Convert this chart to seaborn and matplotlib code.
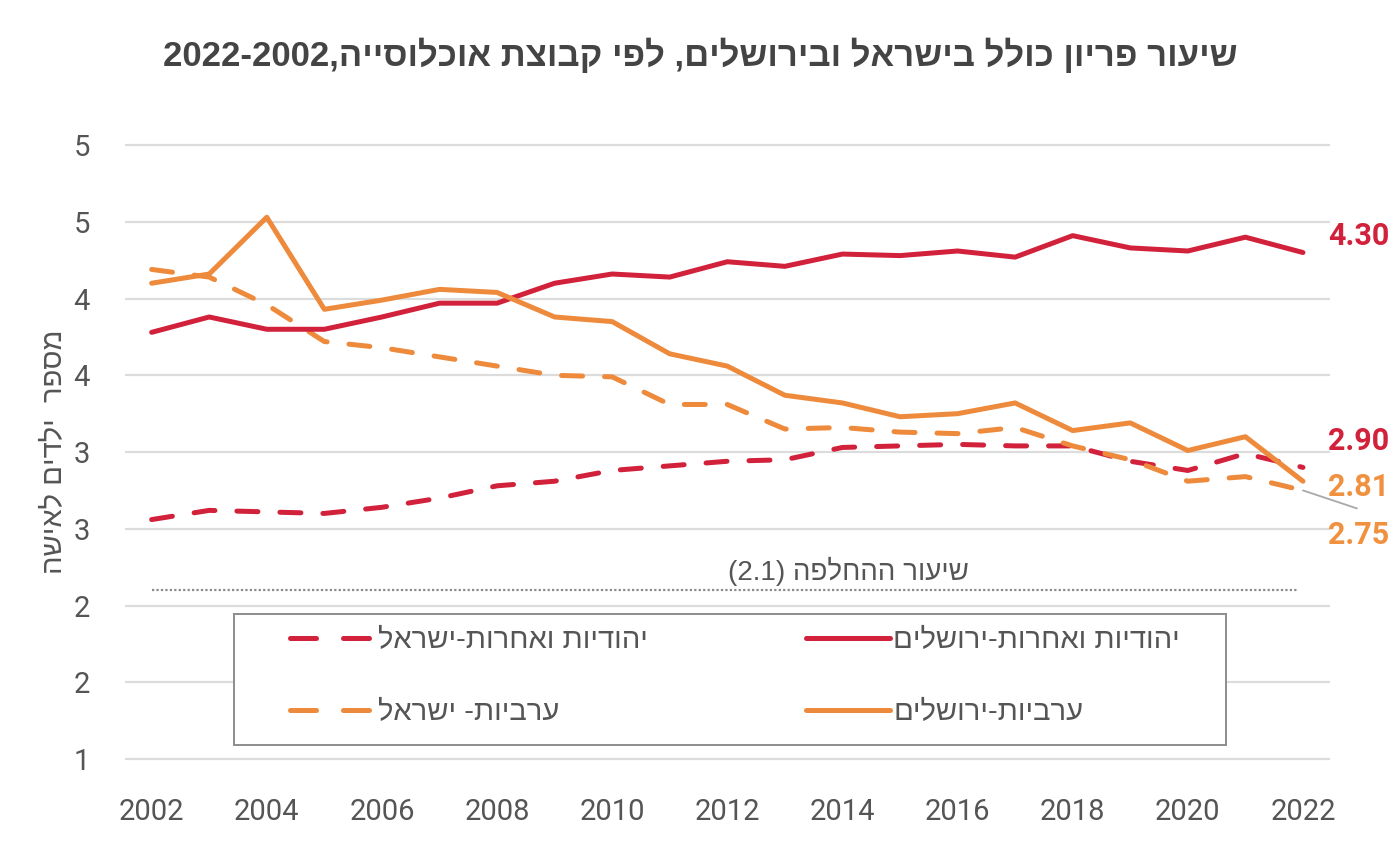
import re
import numpy as np
import pandas as pd
import matplotlib
matplotlib.use("Agg")
import matplotlib.pyplot as plt
from matplotlib.lines import Line2D
from matplotlib.patches import Rectangle
from matplotlib.ticker import FuncFormatter
import seaborn as sns

# ---------------- data ----------------
years = list(range(2002, 2023))
jewish_jerusalem = [3.78, 3.88, 3.80, 3.80, 3.88, 3.97, 3.97, 4.10, 4.16, 4.14, 4.24,
                    4.21, 4.29, 4.28, 4.31, 4.27, 4.41, 4.33, 4.31, 4.40, 4.30]
arab_jerusalem = [4.10, 4.16, 4.53, 3.93, 3.99, 4.06, 4.04, 3.88, 3.85, 3.64, 3.56,
                  3.37, 3.32, 3.23, 3.25, 3.32, 3.14, 3.19, 3.01, 3.10, 2.81]
arab_israel = [4.19, 4.14, 3.96, 3.72, 3.68, 3.62, 3.56, 3.50, 3.49, 3.31, 3.31,
               3.15, 3.16, 3.13, 3.12, 3.16, 3.04, 2.95, 2.81, 2.84, 2.75]
jewish_israel = [2.56, 2.62, 2.61, 2.60, 2.64, 2.70, 2.78, 2.81, 2.88, 2.91, 2.94,
                 2.95, 3.03, 3.04, 3.05, 3.04, 3.04, 2.94, 2.88, 2.99, 2.90]
replacement_rate = 2.1
y_ticks = [1, 1.5, 2, 2.5, 3, 3.5, 4, 4.5, 5]
x_ticks = list(range(2002, 2023, 2))

title = "שיעור פריון כולל בישראל ובירושלים, לפי קבוצת אוכלוסייה,2002-2022"
ylabel = "מספר  ילדים לאישה"
lbl_jj = "יהודיות ואחרות-ירושלים"
lbl_ji = "יהודיות ואחרות-ישראל"
lbl_aj = "ערביות-ירושלים"
lbl_ai = "ערביות- ישראל"
repl_text = "שיעור ההחלפה (2.1)"


def rtl(s):
    r = s[::-1]
    r = re.sub(r"[0-9.]+", lambda m: m.group(0)[::-1], r)
    return r.translate(str.maketrans("()", ")("))


RED = "#D2213B"
ORANGE = "#EE8A3C"
ORANGE_LBL = "#F0913F"
GREY = "#555555"
HEB = ["Liberation Sans Narrow", "Liberation Sans", "DejaVu Sans"]
NUM = ["Roboto", "DejaVu Sans"]

sns.set_theme(style="white")
plt.rcParams["font.family"] = NUM

fig = plt.figure(figsize=(14, 8.66), dpi=100)
ax = fig.add_axes([0.089, 0.120, 0.861, 0.716])

df = pd.DataFrame({"year": years, "jj": jewish_jerusalem, "aj": arab_jerusalem,
                   "ai": arab_israel, "ji": jewish_israel})

LW = 3.6
DASH = (4.2, 4.4)
sns.lineplot(data=df, x="year", y="ji", ax=ax, color=RED, lw=LW, zorder=3)
ax.lines[-1].set_dashes(DASH)
ax.lines[-1].set_dash_capstyle("round")
sns.lineplot(data=df, x="year", y="ai", ax=ax, color=ORANGE, lw=LW, zorder=4)
ax.lines[-1].set_dashes(DASH)
ax.lines[-1].set_dash_capstyle("round")
sns.lineplot(data=df, x="year", y="jj", ax=ax, color=RED, lw=LW, zorder=5)
sns.lineplot(data=df, x="year", y="aj", ax=ax, color=ORANGE, lw=LW, zorder=6)

# replacement rate
ax.hlines(replacement_rate, years[0], years[-1] - 0.1, colors="#8a8a8a",
          linestyles=(0, (1, 1)), lw=1.6, zorder=2)
ax.text(2014.1, replacement_rate + 0.12, rtl(repl_text), ha="center", va="center",
        fontsize=20, color=GREY, family=HEB)

ax.set_xlim(2001.53, 2022.47)
ax.set_ylim(0.98, 5.02)
ax.set_yticks(y_ticks)
ax.yaxis.set_major_formatter(FuncFormatter(lambda v, p: str(int(np.floor(v + 0.5)))))
ax.set_xticks(x_ticks)
ax.grid(axis="y", color="#dcdcdc", lw=1.6)
ax.grid(axis="x", visible=False)
for s in ax.spines.values():
    s.set_visible(False)
ax.tick_params(axis="both", length=0, labelsize=21, labelcolor=GREY)
ax.tick_params(axis="x", pad=26)
ax.tick_params(axis="y", pad=25)
ax.set_xlabel("")
ax.set_ylabel(rtl(ylabel), fontsize=21, color=GREY, family=HEB, labelpad=4)

# end labels
ends = [(jewish_jerusalem[-1], RED, 17), (jewish_israel[-1], RED, 26),
        (arab_jerusalem[-1], ORANGE_LBL, -6), (arab_israel[-1], ORANGE_LBL, -45)]
for v, c, dy in ends:
    ax.annotate(f"{v:.2f}", xy=(years[-1], v), xytext=(25, dy),
                textcoords="offset pixels", ha="left", va="center",
                fontsize=22, fontweight="bold", color=c, annotation_clip=False)
ax.annotate("", xy=(years[-1], arab_israel[-1]), xytext=(54, -18),
            textcoords="offset pixels", annotation_clip=False,
            arrowprops=dict(arrowstyle="-", color="#a8a8a8", lw=1.3,
                            shrinkA=0, shrinkB=0))

# legend
LDASH = (5.2, 5.4)
h_ji = Line2D([], [], color=RED, lw=LW, dashes=LDASH, dash_capstyle="round")
h_ai = Line2D([], [], color=ORANGE, lw=LW, dashes=LDASH, dash_capstyle="round")
h_jj = Line2D([], [], color=RED, lw=LW)
h_aj = Line2D([], [], color=ORANGE, lw=LW)
leg = fig.legend([h_ji, h_ai, h_jj, h_aj],
                 [rtl(lbl_ji), rtl(lbl_ai), rtl(lbl_jj), rtl(lbl_aj)],
                 ncol=2, loc="upper left",
                 bbox_to_anchor=(290 / 1400, 1 - 626 / 866, 890 / 1400, 0),
                 mode="expand", frameon=False,
                 prop={"family": HEB, "size": 21}, handlelength=2.9,
                 handletextpad=0.1, labelspacing=1.5, borderpad=0,
                 borderaxespad=0)
for t in leg.get_texts():
    t.set_color(GREY)
fig.patches.append(Rectangle((234 / 1400, 1 - 745 / 866), 992 / 1400, 131 / 866,
                             transform=fig.transFigure, facecolor="white",
                             edgecolor="#8c8c8c", lw=1.4))
fig.patches[-1].set_zorder(1)
leg.set_zorder(2)

fig.text(0.5, 1 - 55 / 866, rtl(title), ha="center", va="center", fontsize=25,
         fontweight="bold", color="#444444", family=HEB)

fig.savefig("out.png", dpi=100, facecolor="white")
